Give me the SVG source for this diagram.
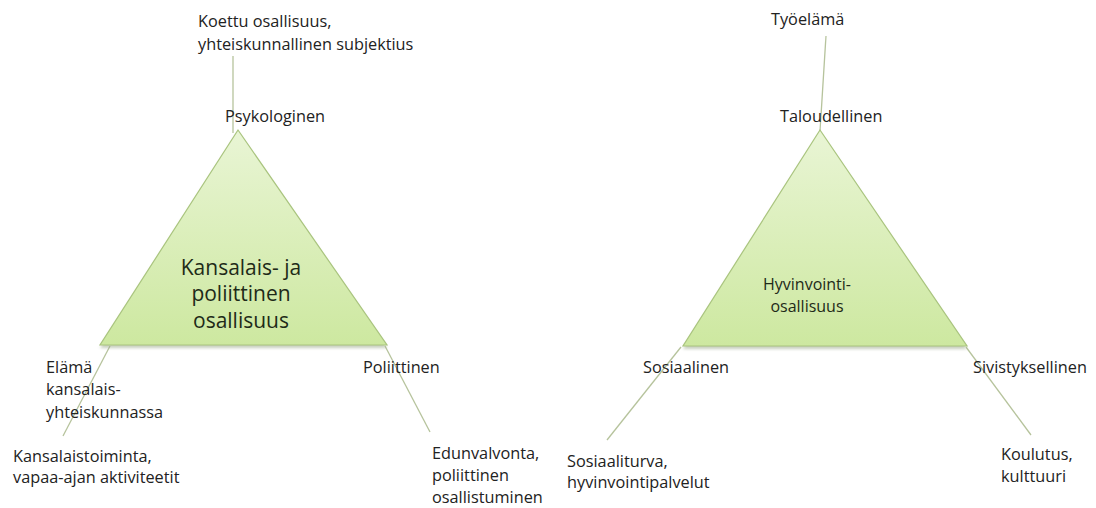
<svg xmlns="http://www.w3.org/2000/svg" width="1096" height="508" viewBox="0 0 1096 508">
<style>
.lbl{font-family:"Open Sans","Liberation Sans",sans-serif;font-size:16.3px;fill:#222}
.ctr{font-family:"Open Sans","Liberation Sans",sans-serif;fill:#1e2a18;text-anchor:middle}
.tri{fill:url(#g);stroke:#a9c47e;stroke-width:1.2}
.sh{fill:#9aa88a;opacity:0.55;filter:url(#blur)}
.con{stroke:#b6c39c;stroke-width:1.3;fill:none}
</style>
<defs>
<linearGradient id="g" x1="0" y1="0" x2="0" y2="1">
<stop offset="0" stop-color="#e9f5d5"/>
<stop offset="1" stop-color="#cde8a0"/>
</linearGradient>
<filter id="blur" x="-10%" y="-10%" width="120%" height="130%"><feGaussianBlur stdDeviation="1.5"/></filter>
</defs>
<rect width="1096" height="508" fill="#fff"/>
<g id="connectors">
<line class="con" x1="233" y1="56" x2="233" y2="133"/>
<line class="con" x1="110" y1="346" x2="63" y2="436"/>
<line class="con" x1="385" y1="346" x2="430" y2="432"/>
<line class="con" x1="826" y1="36" x2="820" y2="131"/>
<line class="con" x1="681" y1="347" x2="607" y2="440"/>
<line class="con" x1="966" y1="347" x2="1031" y2="435"/>
</g>
<g id="tri-left">
<polygon class="sh" points="238,133 100,348 387,348"/>
<polygon class="tri" points="238,130 100,345 387,345"/>
<text class="ctr" font-size="21" x="241" y="275">Kansalais- ja</text>
<text class="ctr" font-size="21" x="241" y="301">poliittinen</text>
<text class="ctr" font-size="21" x="241" y="328">osallisuus</text>
</g>
<g id="tri-right">
<polygon class="sh" points="820,133 683,349 967,349"/>
<polygon class="tri" points="820,130 683,346 967,346"/>
<text class="ctr" font-size="16" x="807" y="290">Hyvinvointi-</text>
<text class="ctr" font-size="16" x="807" y="312">osallisuus</text>
</g>
<g id="n-koettu"><text class="lbl" x="198" y="27">Koettu osallisuus,</text><text class="lbl" x="198" y="50">yhteiskunnallinen subjektius</text></g>
<g id="n-psyk"><text class="lbl" x="225" y="122">Psykologinen</text></g>
<g id="n-elama"><text class="lbl" x="46" y="373">Elämä</text><text class="lbl" x="46" y="395">kansalais-</text><text class="lbl" x="46" y="418">yhteiskunnassa</text></g>
<g id="n-kansalaistoiminta"><text class="lbl" x="13" y="462">Kansalaistoiminta,</text><text class="lbl" x="13" y="483">vapaa-ajan aktiviteetit</text></g>
<g id="n-poliittinen"><text class="lbl" x="363" y="373">Poliittinen</text></g>
<g id="n-edunvalvonta"><text class="lbl" x="432" y="459">Edunvalvonta,</text><text class="lbl" x="432" y="481">poliittinen</text><text class="lbl" x="432" y="503">osallistuminen</text></g>
<g id="n-tyoelama"><text class="lbl" x="771" y="25">Työelämä</text></g>
<g id="n-taloudellinen"><text class="lbl" x="780" y="122">Taloudellinen</text></g>
<g id="n-sosiaalinen"><text class="lbl" x="643" y="373">Sosiaalinen</text></g>
<g id="n-sivistyksellinen"><text class="lbl" x="973" y="373">Sivistyksellinen</text></g>
<g id="n-sosiaaliturva"><text class="lbl" x="567" y="467">Sosiaaliturva,</text><text class="lbl" x="567" y="488">hyvinvointipalvelut</text></g>
<g id="n-koulutus"><text class="lbl" x="1001" y="460">Koulutus,</text><text class="lbl" x="1001" y="482">kulttuuri</text></g>
</svg>
